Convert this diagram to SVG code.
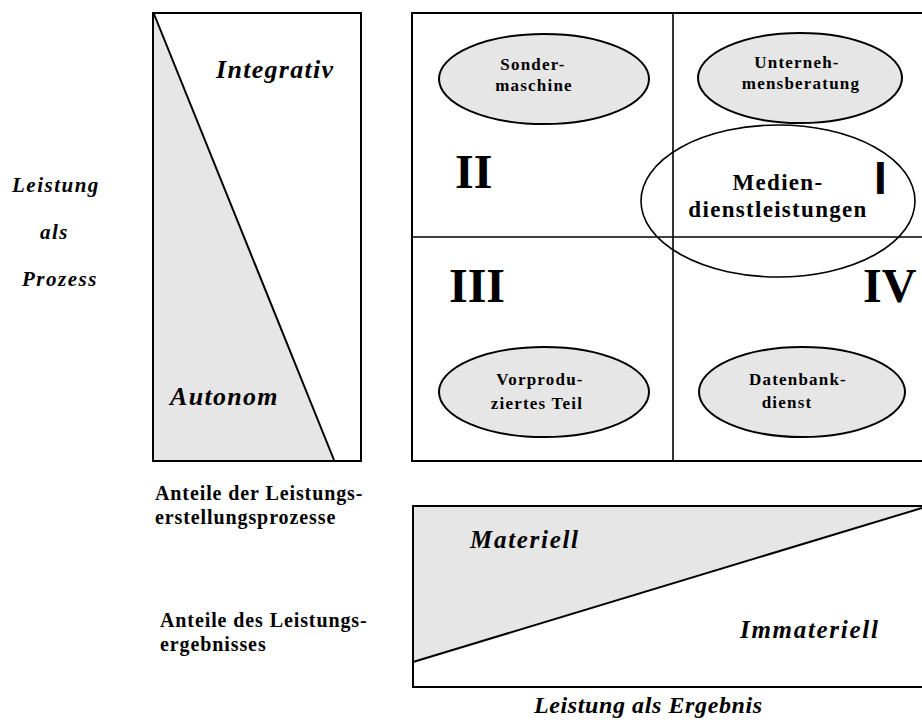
<svg xmlns="http://www.w3.org/2000/svg" width="922" height="727" viewBox="0 0 922 727">
<style>
  .frame { fill: none; stroke: #000; stroke-width: 2; }
  .div { fill: none; stroke: #000; stroke-width: 1.6; }
  .shade { fill: #e6e6e6; stroke: none; }
  .diag { fill: none; stroke: #000; stroke-width: 2; }
  .node { fill: #e6e6e6; stroke: #000; stroke-width: 2; }
  .big { fill: none; stroke: #000; stroke-width: 1.6; }
  text { font-family: "Liberation Serif", "DejaVu Serif", serif; fill: #000; font-weight: bold; }
  .small { font-size: 17px; letter-spacing: 1.2px; text-anchor: middle; }
  .med { font-size: 23px; letter-spacing: 1.3px; text-anchor: middle; }
  .roman { font-size: 48px; }
  .axis { font-size: 21px; letter-spacing: 1.5px; font-style: italic; }
  .lab { font-size: 26px; letter-spacing: 1.3px; font-style: italic; }
  .lab2 { font-size: 25px; letter-spacing: 1.7px; font-style: italic; }
  .share { font-size: 20px; letter-spacing: 0.9px; }
</style>

<g id="left-panel">
  <polygon class="shade" points="154,14 334,460 154,460"/>
  <line class="diag" x1="154" y1="14" x2="334" y2="460"/>
  <rect class="frame" x="153" y="13" width="208" height="448"/>
  <text class="lab" x="216" y="78">Integrativ</text>
  <text class="lab" x="170" y="405">Autonom</text>
</g>

<g id="axis-process">
  <text class="axis" x="12" y="192">Leistung</text>
  <text class="axis" x="40" y="239">als</text>
  <text class="axis" x="22" y="286">Prozess</text>
</g>

<g id="matrix">
  <rect class="frame" x="412" y="13" width="520" height="448"/>
  <line class="div" x1="673" y1="13" x2="673" y2="461"/>
  <line class="div" x1="412" y1="237" x2="922" y2="237"/>
  <text class="roman" x="455" y="188">II</text>
  <text class="roman" x="449" y="302">III</text>
  <text class="roman" x="863" y="302">IV</text>
  <text x="874" y="194" style="font-family:'Liberation Sans','DejaVu Sans',sans-serif;font-size:46px;font-weight:bold">I</text>
</g>

<g id="node-sondermaschine">
  <ellipse class="node" cx="544" cy="79" rx="105" ry="45"/>
  <text class="small" x="533" y="70">Sonder-</text>
  <text class="small" x="534" y="91">maschine</text>
</g>

<g id="node-unternehmensberatung">
  <ellipse class="node" cx="800" cy="78" rx="102" ry="45"/>
  <text class="small" x="797" y="68">Unterneh-</text>
  <text class="small" x="801" y="89">mensberatung</text>
</g>

<g id="node-mediendienstleistungen">
  <ellipse class="big" cx="778" cy="201" rx="137" ry="76"/>
  <text class="med" x="778" y="190">Medien-</text>
  <text class="med" x="778" y="217">dienstleistungen</text>
</g>

<g id="node-vorproduziertes-teil">
  <ellipse class="node" cx="544" cy="392" rx="105" ry="45"/>
  <text class="small" x="540" y="385">Vorprodu-</text>
  <text class="small" x="537" y="409">ziertes Teil</text>
</g>

<g id="node-datenbankdienst">
  <ellipse class="node" cx="802" cy="392" rx="103" ry="45"/>
  <text class="small" x="798" y="385">Datenbank-</text>
  <text class="small" x="787" y="408">dienst</text>
</g>

<g id="shares-labels">
  <text class="share" x="155" y="500">Anteile der Leistungs-</text>
  <text class="share" x="155" y="524">erstellungsprozesse</text>
  <text class="share" x="160" y="627">Anteile des Leistungs-</text>
  <text class="share" x="160" y="651">ergebnisses</text>
</g>

<g id="bottom-panel">
  <polygon class="shade" points="414,507 922,507 414,662"/>
  <line class="diag" x1="413" y1="662" x2="922" y2="508"/>
  <rect class="frame" x="413" y="506" width="520" height="181"/>
  <text class="lab2" x="470" y="548">Materiell</text>
  <text class="lab2" x="740" y="638">Immateriell</text>
</g>

<g id="axis-result">
  <text class="lab2" x="534" y="713" style="font-size:24px;letter-spacing:0.6px">Leistung als Ergebnis</text>
</g>

<g id="connectors"></g>
</svg>
